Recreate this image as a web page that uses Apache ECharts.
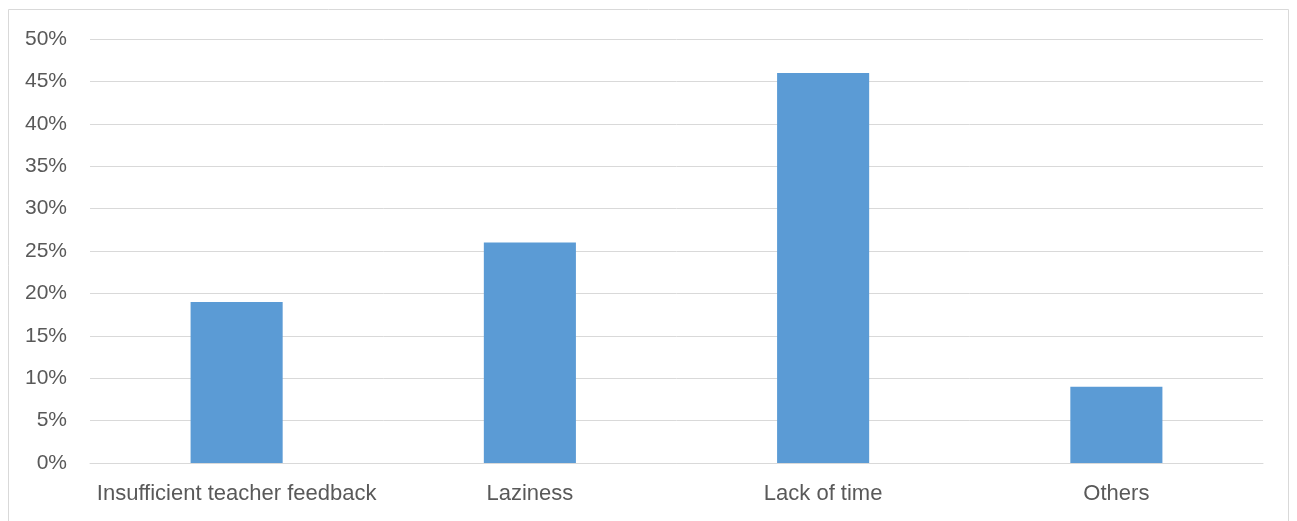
<!DOCTYPE html>
<html><head><meta charset="utf-8">
<script src="https://cdn.jsdelivr.net/npm/echarts@6/dist/echarts.min.js"></script>
<style>html,body{margin:0;padding:0;background:#fff}#c{width:1297px;height:521px}</style>
</head><body><div id="c"></div>
<script>
const categories = ['Insufficient teacher feedback', 'Laziness', 'Lack of time', 'Others'];
const values = [19, 26, 46, 9];
const yTicks = [0, 5, 10, 15, 20, 25, 30, 35, 40, 45, 50];

const chart = echarts.init(document.getElementById('c'), null, {renderer: 'canvas'});
chart.setOption({
  animation: false,
  backgroundColor: '#fff',
  textStyle: {fontFamily: 'Liberation Sans'},
  graphic: [{type: 'rect', shape: {x: 8.5, y: 9.5, width: 1280, height: 530}, style: {fill: 'none', stroke: '#d9d9d9', lineWidth: 1}}],
  grid: {left: 90, right: 34, top: 39, bottom: 58, containLabel: false},
  xAxis: {
    type: 'category', data: categories,
    axisLine: {show: true, lineStyle: {color: '#d9d9d9'}},
    axisTick: {show: false},
    axisLabel: {color: '#595959', fontSize: 22, margin: 20, interval: 0}
  },
  yAxis: {
    type: 'value', min: yTicks[0], max: yTicks[yTicks.length - 1], interval: 5,
    axisLine: {show: false}, axisTick: {show: false},
    splitLine: {lineStyle: {color: '#d9d9d9', width: 1}},
    axisLabel: {color: '#595959', fontSize: 21, margin: 23, formatter: v => v + '%'}
  },
  series: [{
    type: 'bar', data: values, barWidth: '31.4%',
    itemStyle: {color: '#5b9bd5'}
  }]
});
</script></body></html>
